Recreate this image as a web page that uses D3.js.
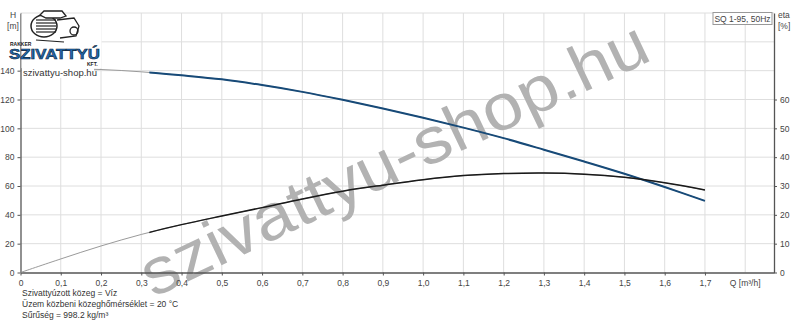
<!DOCTYPE html>
<html>
<head>
<meta charset="utf-8">
<script src="https://cdn.jsdelivr.net/npm/d3@7"></script>
<style>
  body { margin: 0; background: #fff; }
  svg { display: block; font-family: "Liberation Sans", Arial, sans-serif; }
  .tick text { fill: #444; font-size: 8.5px; }
</style>
</head>
<body>
<div id="chart"></div>
<script>
// Q-H and Q-eta curve of SQ 1-95, 50Hz
var flow = [0, 0.1, 0.2, 0.3, 0.4, 0.5, 0.6, 0.7, 0.8, 0.9, 1.0, 1.1, 1.2, 1.3, 1.4, 1.5, 1.6, 1.7];
var head = [141.5, 141.3, 140.8, 139.2, 136.8, 134, 130, 125.3, 119.8, 113.8, 107.4, 100.5, 93.2, 85.2, 77, 68.5, 59.3, 49.7];
var eta = [0, 4.7, 9.2, 13.2, 16.6, 19.6, 22.5, 25.5, 28.2, 30.3, 32.2, 33.6, 34.3, 34.5, 34.1, 33.0, 31.1, 28.6];
var qStart = 0.32; // start of the allowed operating range

var xTicks = [0, 0.1, 0.2, 0.3, 0.4, 0.5, 0.6, 0.7, 0.8, 0.9, 1.0, 1.1, 1.2, 1.3, 1.4, 1.5, 1.6, 1.7];
var xGrid = [0.1, 0.2, 0.3, 0.4, 0.5, 0.6, 0.7, 0.8, 0.9, 1.0, 1.1, 1.2, 1.3, 1.4, 1.5, 1.6, 1.7, 1.8];
var hTicks = [0, 20, 40, 60, 80, 100, 120, 140];
var hGrid = [20, 40, 60, 80, 100, 120, 140, 160, 180];
var etaTicks = [0, 10, 20, 30, 40, 50, 60];

var infoLines = [
  "Szivattyúzott közeg = Víz",
  "Üzem közbeni közeghőmérséklet = 20 °C",
  "Sűrűség = 998.2 kg/m³"
];

var svgWidth = 800, svgHeight = 321;
var plotLeft = 20.5, plotRight = 774, plotTop = 13, plotBottom = 272.5;

var svg = d3.select("#chart").append("svg")
  .attr("width", svgWidth)
  .attr("height", svgHeight);

var x = d3.scaleLinear().domain([0, 1.8715]).range([plotLeft, plotRight]);
var yH = d3.scaleLinear().domain([0, 180]).range([plotBottom, plotTop]);
var yEta = d3.scaleLinear().domain([0, 90]).range([plotBottom, plotTop]);

// grid
svg.append("g").selectAll("line").data(xGrid).enter().append("line")
  .attr("x1", d => x(d)).attr("x2", d => x(d))
  .attr("y1", plotTop).attr("y2", plotBottom)
  .attr("stroke", "#dedede").attr("stroke-width", 1);
svg.append("g").selectAll("line").data(hGrid).enter().append("line")
  .attr("x1", plotLeft).attr("x2", plotRight)
  .attr("y1", d => yH(d)).attr("y2", d => yH(d))
  .attr("stroke", "#dedede").attr("stroke-width", 1);

// watermark
svg.append("text")
  .attr("transform", "translate(153, 298) rotate(-25.5)")
  .attr("font-size", 65)
  .attr("fill", "#b2b2b2")
  .attr("textLength", 555)
  .attr("lengthAdjust", "spacingAndGlyphs")
  .text("szivattyu-shop.hu");

// axes
var fmt = d => d3.format(".1f")(d).replace(".", ",");
var xAxis = svg.append("g")
  .attr("transform", `translate(0, ${plotBottom})`)
  .call(d3.axisBottom(x).tickValues(xTicks).tickSize(3).tickSizeOuter(0)
    .tickFormat(d => d === 0 ? "0" : fmt(d)));
var leftAxis = svg.append("g")
  .attr("transform", `translate(${plotLeft}, 0)`)
  .call(d3.axisLeft(yH).tickValues(hTicks).tickSize(3).tickSizeOuter(0));
var rightAxis = svg.append("g")
  .attr("transform", `translate(${plotRight}, 0)`)
  .call(d3.axisRight(yEta).tickValues(etaTicks).tickSize(3).tickSizeOuter(0));

[xAxis, leftAxis, rightAxis].forEach(function(a) {
  a.select(".domain").attr("stroke", "#555").attr("stroke-width", 1.3);
  a.selectAll(".tick line").attr("stroke", "#555");
});
xAxis.selectAll(".tick text").attr("dy", "0.9em");

// axis labels
svg.append("text").attr("x", 13).attr("y", 18).attr("text-anchor", "middle")
  .attr("font-size", 8.5).attr("fill", "#444").text("H");
svg.append("text").attr("x", 13).attr("y", 29).attr("text-anchor", "middle")
  .attr("font-size", 8.5).attr("fill", "#444").text("[m]");
svg.append("text").attr("x", 778).attr("y", 18)
  .attr("font-size", 8.5).attr("fill", "#444").text("eta");
svg.append("text").attr("x", 778).attr("y", 29)
  .attr("font-size", 8.5).attr("fill", "#444").text("[%]");
svg.append("text").attr("x", x(1.8)).attr("y", plotBottom + 13.5).attr("text-anchor", "middle")
  .attr("font-size", 8.5).attr("fill", "#444").text("Q [m³/h]");

// legend box
svg.append("rect").attr("x", 713).attr("y", 12.5).attr("width", 59).attr("height", 12)
  .attr("fill", "#fff").attr("stroke", "#999").attr("stroke-width", 1);
svg.append("text").attr("x", 742.5).attr("y", 21.5).attr("text-anchor", "middle")
  .attr("font-size", 8.5).attr("fill", "#444").text("SQ 1-95, 50Hz");

// curves
var hData = flow.map((q, i) => ({q: q, v: head[i]}));
var etaData = flow.map((q, i) => ({q: q, v: eta[i]}));
var hLine = d3.line().x(d => x(d.q)).y(d => yH(d.v)).curve(d3.curveCatmullRom.alpha(0.5));
var etaLine = d3.line().x(d => x(d.q)).y(d => yEta(d.v)).curve(d3.curveCatmullRom.alpha(0.5));

svg.append("clipPath").attr("id", "opRange").append("rect")
  .attr("x", x(qStart)).attr("y", 0).attr("width", plotRight - x(qStart)).attr("height", svgHeight);

svg.append("path").datum(hData).attr("d", hLine)
  .attr("fill", "none").attr("stroke", "#9a9a9a").attr("stroke-width", 1);
svg.append("path").datum(etaData).attr("d", etaLine)
  .attr("fill", "none").attr("stroke", "#9a9a9a").attr("stroke-width", 1);
svg.append("path").datum(hData).attr("d", hLine).attr("clip-path", "url(#opRange)")
  .attr("fill", "none").attr("stroke", "#174a78").attr("stroke-width", 2);
svg.append("path").datum(etaData).attr("d", etaLine).attr("clip-path", "url(#opRange)")
  .attr("fill", "none").attr("stroke", "#1a1a1a").attr("stroke-width", 1.5);

// info text
svg.append("g").selectAll("text").data(infoLines).enter().append("text")
  .attr("x", 22).attr("y", (d, i) => 296 + i * 11)
  .attr("font-size", 8.5).attr("fill", "#333")
  .text(d => d);

// logo (drawn over the chart like the original bitmap)
var logo = svg.append("g");
logo.append("rect").attr("x", 21.5).attr("y", 14).attr("width", 80).attr("height", 54).attr("fill", "#fff");
// pump sketch
logo.append("ellipse").attr("cx", 44).attr("cy", 26).attr("rx", 13).attr("ry", 11)
  .attr("fill", "#fff").attr("stroke", "#222").attr("stroke-width", 1.5);
[-6, -3, 0, 3, 6].forEach(function(o) {
  logo.append("line").attr("x1", 36).attr("x2", 56).attr("y1", 26 + o).attr("y2", 26 + o)
    .attr("stroke", "#222").attr("stroke-width", 1.2);
});
logo.append("path").attr("d", "M40 15 L44 11 L62 11 L66 16 L60 18 L46 18 Z")
  .attr("fill", "#fff").attr("stroke", "#222").attr("stroke-width", 1.3);
logo.append("path").attr("d", "M57 20 L74 18 L79 26 L76 36 L60 38")
  .attr("fill", "none").attr("stroke", "#222").attr("stroke-width", 1.3);
logo.append("circle").attr("cx", 74).attr("cy", 31).attr("r", 4)
  .attr("fill", "none").attr("stroke", "#222").attr("stroke-width", 1.3);
logo.append("line").attr("x1", 36).attr("x2", 64).attr("y1", 40).attr("y2", 42)
  .attr("stroke", "#222").attr("stroke-width", 1.2);
logo.append("text").attr("x", 10).attr("y", 46).attr("font-size", 5).attr("font-weight", "bold")
  .attr("fill", "#222").text("RAKKER");
logo.append("text").attr("x", 9).attr("y", 59).attr("font-size", 15.5).attr("font-weight", "bold")
  .attr("fill", "#1f6bb5").attr("stroke", "#0b1e33").attr("stroke-width", 0.6)
  .attr("textLength", 91).attr("lengthAdjust", "spacingAndGlyphs").text("SZIVATTYÚ");
logo.append("text").attr("x", 87).attr("y", 66).attr("font-size", 5).attr("font-weight", "bold")
  .attr("fill", "#222").text("KFT.");
logo.append("rect").attr("x", 22).attr("y", 68).attr("width", 72).attr("height", 10).attr("fill", "#fff");
logo.append("text").attr("x", 23).attr("y", 76).attr("font-size", 9.5).attr("fill", "#333")
  .text("szivattyu-shop.hu");
</script>
</body>
</html>
